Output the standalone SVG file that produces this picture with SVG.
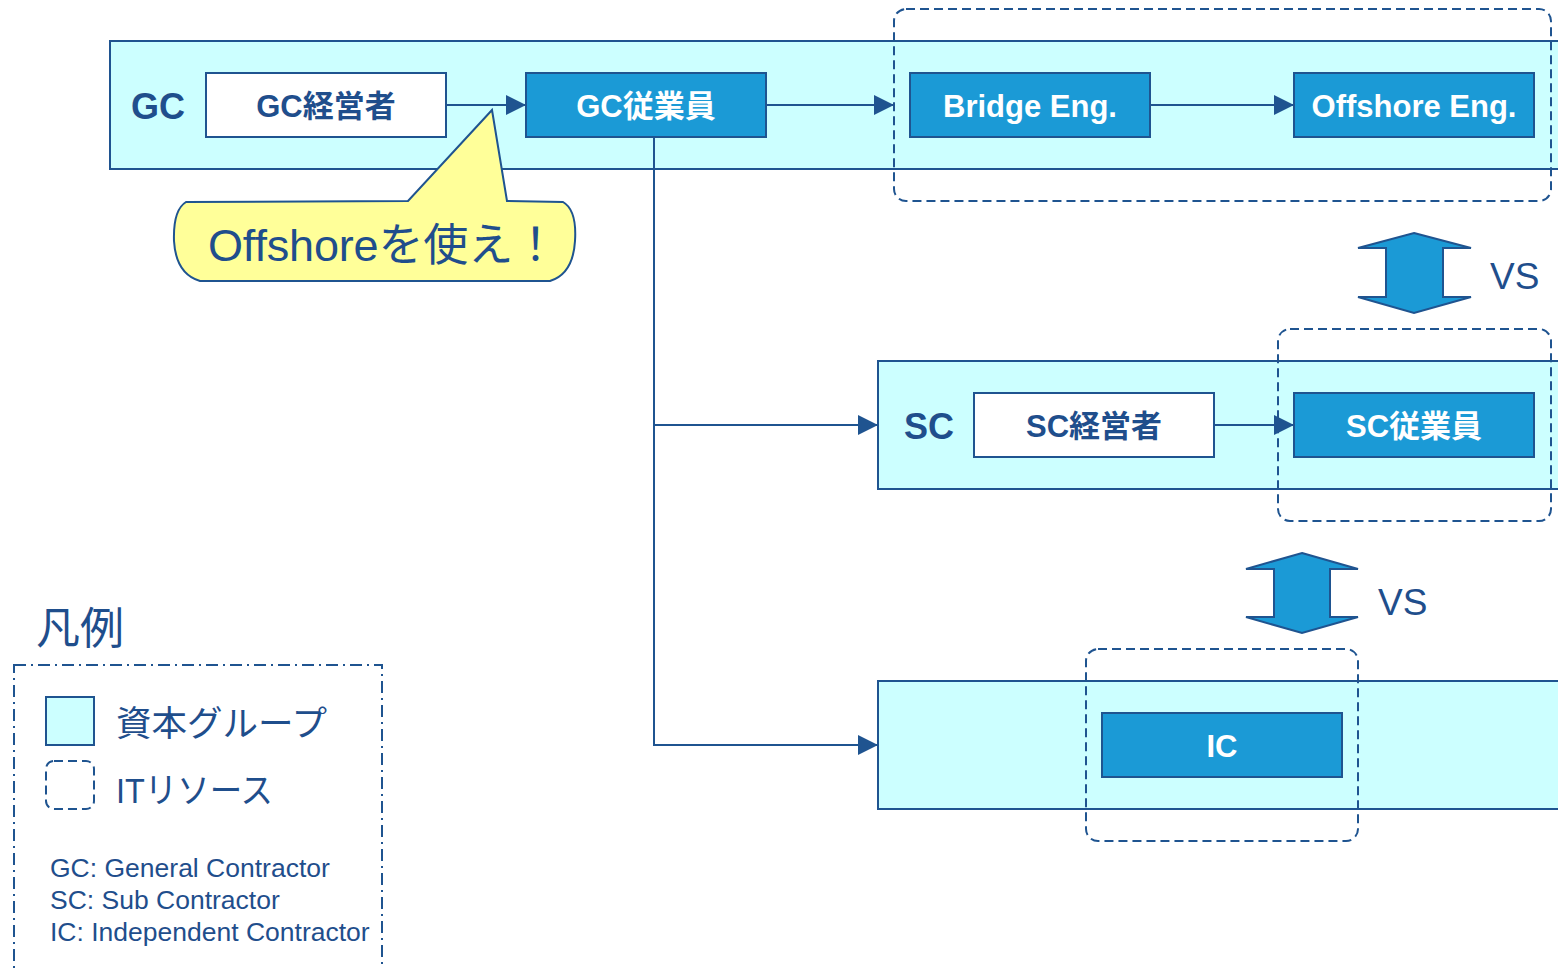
<svg xmlns="http://www.w3.org/2000/svg" width="1558" height="968" viewBox="0 0 1558 968">
<style>
.grp{fill:#CCFFFF;stroke:#1F5490;stroke-width:2}
.wbox{fill:#FFFFFF;stroke:#1F5490;stroke-width:2}
.bbox{fill:#1B9AD6;stroke:#1F5490;stroke-width:2}
.it{fill:none;stroke:#1F5490;stroke-width:2;stroke-dasharray:9 5}
.con{fill:none;stroke:#1F5490;stroke-width:2}
.lbl{font-family:"Liberation Sans","Noto Sans CJK JP",sans-serif;font-weight:bold;font-size:36px;fill:#1F4E8C;text-anchor:middle}
.bt{font-family:"Liberation Sans","Noto Sans CJK JP",sans-serif;font-weight:bold;font-size:31px;text-anchor:middle}
.dark{fill:#1F4E8C}
.white{fill:#FFFFFF}
.reg{font-family:"Liberation Sans","Noto Sans CJK JP",sans-serif;fill:#1F4E8C}
.dbl{fill:#1B9AD6;stroke:#1F5490;stroke-width:2;stroke-linejoin:miter}
</style>
<defs>
<marker id="ah" markerUnits="userSpaceOnUse" markerWidth="20" markerHeight="20" viewBox="0 0 20 20" refX="20" refY="10" orient="auto">
<path d="M0,0 L20,10 L0,20 Z" fill="#1F5490"/>
</marker>
</defs>

<g id="gc-group">
<rect class="grp" x="110" y="41" width="1460" height="128"/>
<text class="lbl" x="158" y="119">GC</text>
</g>
<g id="sc-group">
<rect class="grp" x="878" y="361" width="692" height="128"/>
<text class="lbl" x="929" y="439">SC</text>
</g>
<g id="ic-group">
<rect class="grp" x="878" y="681" width="692" height="128"/>
</g>

<g id="gc-manager">
<rect class="wbox" x="206" y="73" width="240" height="64"/>
<text class="bt dark" x="326" y="117">GC経営者</text>
</g>
<g id="gc-employee">
<rect class="bbox" x="526" y="73" width="240" height="64"/>
<text class="bt white" x="646" y="117">GC従業員</text>
</g>
<g id="bridge-eng">
<rect class="bbox" x="910" y="73" width="240" height="64"/>
<text class="bt white" x="1030" y="117">Bridge Eng.</text>
</g>
<g id="offshore-eng">
<rect class="bbox" x="1294" y="73" width="240" height="64"/>
<text class="bt white" x="1414" y="117">Offshore Eng.</text>
</g>
<g id="sc-manager">
<rect class="wbox" x="974" y="393" width="240" height="64"/>
<text class="bt dark" x="1094" y="437">SC経営者</text>
</g>
<g id="sc-employee">
<rect class="bbox" x="1294" y="393" width="240" height="64"/>
<text class="bt white" x="1414" y="437">SC従業員</text>
</g>
<g id="ic">
<rect class="bbox" x="1102" y="713" width="240" height="64"/>
<text class="bt white" x="1222" y="757">IC</text>
</g>

<g id="it-resources">
<rect class="it" x="894" y="9" width="657" height="192" rx="12" ry="12"/>
<rect class="it" x="1278" y="329" width="273" height="192" rx="12" ry="12"/>
<rect class="it" x="1086" y="649" width="272" height="192" rx="12" ry="12"/>
</g>

<g id="connectors">
<line class="con" x1="446" y1="105" x2="526" y2="105" marker-end="url(#ah)"/>
<line class="con" x1="766" y1="105" x2="894" y2="105" marker-end="url(#ah)"/>
<line class="con" x1="1150" y1="105" x2="1294" y2="105" marker-end="url(#ah)"/>
<polyline class="con" points="654,137 654,745 878,745" marker-end="url(#ah)"/>
<line class="con" x1="654" y1="425" x2="878" y2="425" marker-end="url(#ah)"/>
<line class="con" x1="1214" y1="425" x2="1294" y2="425" marker-end="url(#ah)"/>
</g>

<g id="callout">
<path d="M186,202 L408,201 L492,110 L507,201 L563,202 Q577,210 575,241 Q573,274 550,281 L200,281 Q176,274 174,241 Q173,210 186,202 Z" fill="#FFFF99" stroke="#1F5490" stroke-width="2" stroke-linejoin="miter"/>
<text class="reg" x="208" y="261" font-size="45" textLength="350" lengthAdjust="spacing">Offshoreを使え！</text>
</g>

<g id="vs-1">
<path class="dbl" d="M1414,233 L1471,248 L1443,248 L1443,297 L1471,297 L1414,313 L1358,297 L1386,297 L1386,248 L1358,248 Z"/>
<text class="reg" x="1490" y="289" font-size="37">VS</text>
</g>
<g id="vs-2">
<path class="dbl" d="M1302,553 L1358,569 L1330,569 L1330,617 L1358,617 L1302,633 L1246,617 L1274,617 L1274,569 L1246,569 Z"/>
<text class="reg" x="1378" y="615" font-size="37">VS</text>
</g>

<g id="legend">
<text class="reg" x="36" y="644" font-size="44">凡例</text>
<rect x="14" y="665" width="368" height="320" fill="none" stroke="#1F5490" stroke-width="2" stroke-dasharray="12 5 2 5"/>
<rect x="46" y="697" width="48" height="48" fill="#CCFFFF" stroke="#1F5490" stroke-width="2"/>
<text class="reg" x="116" y="736" font-size="35" textLength="211" lengthAdjust="spacingAndGlyphs">資本グループ</text>
<rect x="46" y="761" width="48" height="48" rx="8" ry="8" class="it"/>
<text class="reg" x="116" y="803" font-size="35" textLength="157" lengthAdjust="spacingAndGlyphs">ITリソース</text>
<text class="reg" x="50" y="877" font-size="26.5">GC: General Contractor</text>
<text class="reg" x="50" y="909" font-size="26.5">SC: Sub Contractor</text>
<text class="reg" x="50" y="941" font-size="26.5">IC: Independent Contractor</text>
</g>
</svg>
